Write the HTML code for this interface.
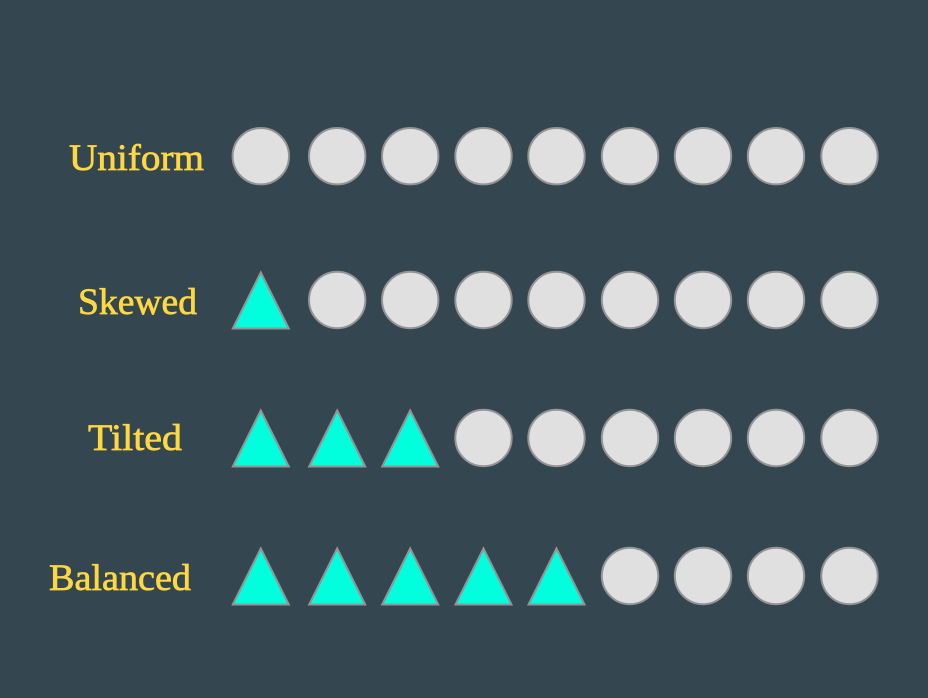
<!DOCTYPE html>
<html>
<head>
<meta charset="utf-8">
<style>
html,body{margin:0;padding:0;background:#34464f;width:928px;height:698px;overflow:hidden}
svg{display:block}
text{font-family:"Liberation Serif",serif;font-size:37px;fill:#ffd740;stroke:#ffd740;stroke-width:.7px}
circle{fill:#e0e0e0;stroke:#949494;stroke-width:2}
polygon{fill:#00ffdd;stroke:#949494;stroke-width:2}
</style>
</head>
<body>
<svg width="928" height="698" viewBox="0 0 928 698" xmlns="http://www.w3.org/2000/svg">
<rect width="928" height="698" fill="#34464f"/>
<text x="69" y="170" textLength="135" lengthAdjust="spacingAndGlyphs">Uniform</text>
<text x="78" y="314" textLength="119" lengthAdjust="spacingAndGlyphs">Skewed</text>
<text x="88" y="450" textLength="94" lengthAdjust="spacingAndGlyphs">Tilted</text>
<text x="49" y="590" textLength="142" lengthAdjust="spacingAndGlyphs">Balanced</text>

<circle cx="260.8" cy="156.2" r="28.2"/><circle cx="337.2" cy="156.2" r="28.2"/><circle cx="410.2" cy="156.2" r="28.2"/><circle cx="483.5" cy="156.2" r="28.2"/><circle cx="556.5" cy="156.2" r="28.2"/><circle cx="630" cy="156.2" r="28.2"/><circle cx="703" cy="156.2" r="28.2"/><circle cx="776" cy="156.2" r="28.2"/><circle cx="849.5" cy="156.2" r="28.2"/>

<polygon points="260.8,272.5 232.8,328.5 288.8,328.5"/>
<circle cx="337.2" cy="300" r="28.2"/><circle cx="410.2" cy="300" r="28.2"/><circle cx="483.5" cy="300" r="28.2"/><circle cx="556.5" cy="300" r="28.2"/><circle cx="630" cy="300" r="28.2"/><circle cx="703" cy="300" r="28.2"/><circle cx="776" cy="300" r="28.2"/><circle cx="849.5" cy="300" r="28.2"/>

<polygon points="260.8,410.5 232.8,466.5 288.8,466.5"/><polygon points="337.2,410.5 309.2,466.5 365.2,466.5"/><polygon points="410.2,410.5 382.2,466.5 438.2,466.5"/>
<circle cx="483.5" cy="438" r="28.2"/><circle cx="556.5" cy="438" r="28.2"/><circle cx="630" cy="438" r="28.2"/><circle cx="703" cy="438" r="28.2"/><circle cx="776" cy="438" r="28.2"/><circle cx="849.5" cy="438" r="28.2"/>

<polygon points="260.8,548.5 232.8,604.5 288.8,604.5"/><polygon points="337.2,548.5 309.2,604.5 365.2,604.5"/><polygon points="410.2,548.5 382.2,604.5 438.2,604.5"/><polygon points="483.5,548.5 455.5,604.5 511.5,604.5"/><polygon points="556.5,548.5 528.5,604.5 584.5,604.5"/>
<circle cx="630" cy="576" r="28.2"/><circle cx="703" cy="576" r="28.2"/><circle cx="776" cy="576" r="28.2"/><circle cx="849.5" cy="576" r="28.2"/>
</svg>
</body>
</html>
